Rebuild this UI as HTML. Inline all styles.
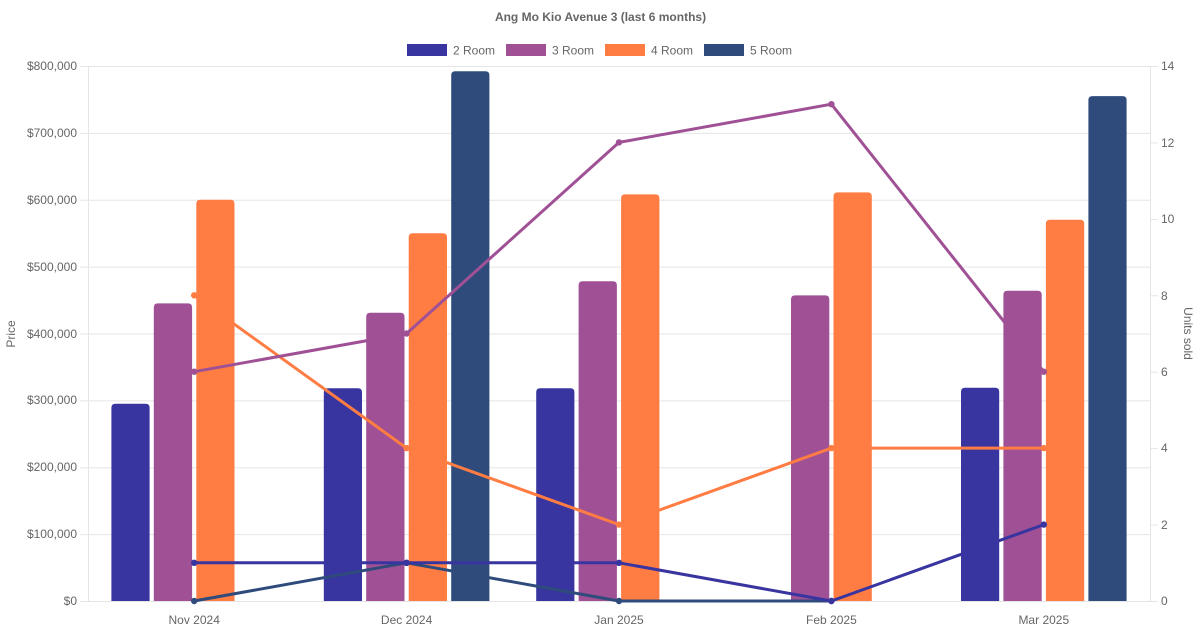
<!DOCTYPE html>
<html><head><meta charset="utf-8"><style>
html,body{margin:0;padding:0;background:#fff;}
svg{display:block;}
text{font-family:"Liberation Sans",Arial,sans-serif;font-size:12px;fill:#666;}
</style></head><body>
<svg width="1200" height="630" viewBox="0 0 1200 630" xmlns="http://www.w3.org/2000/svg">
<rect width="1200" height="630" fill="#fff"/>
<text x="600.5" y="21" text-anchor="middle" font-weight="bold">Ang Mo Kio Avenue 3 (last 6 months)</text>
<g>
<rect x="407" y="44" width="40" height="12" fill="#3935a0"/><text x="453" y="54.5">2 Room</text>
<rect x="506" y="44" width="40" height="12" fill="#a05195"/><text x="552" y="54.5">3 Room</text>
<rect x="605" y="44" width="40" height="12" fill="#ff7c43"/><text x="651" y="54.5">4 Room</text>
<rect x="704" y="44" width="40" height="12" fill="#2f4b7c"/><text x="750" y="54.5">5 Room</text>
</g>
<g stroke="#e5e5e5" stroke-width="1">
<line x1="80" y1="66.5" x2="1150" y2="66.5"/>
<line x1="80" y1="133.4" x2="1150" y2="133.4"/>
<line x1="80" y1="200.2" x2="1150" y2="200.2"/>
<line x1="80" y1="267.1" x2="1150" y2="267.1"/>
<line x1="80" y1="334" x2="1150" y2="334"/>
<line x1="80" y1="400.9" x2="1150" y2="400.9"/>
<line x1="80" y1="467.7" x2="1150" y2="467.7"/>
<line x1="80" y1="534.6" x2="1150" y2="534.6"/>
<line x1="80" y1="601.5" x2="1150" y2="601.5"/>
<line x1="88.5" y1="66" x2="88.5" y2="601"/>
<line x1="1150.5" y1="66" x2="1150.5" y2="601"/>
<line x1="1150" y1="66.5" x2="1158" y2="66.5"/>
<line x1="1150" y1="142.9" x2="1158" y2="142.9"/>
<line x1="1150" y1="219.4" x2="1158" y2="219.4"/>
<line x1="1150" y1="295.8" x2="1158" y2="295.8"/>
<line x1="1150" y1="372.2" x2="1158" y2="372.2"/>
<line x1="1150" y1="448.6" x2="1158" y2="448.6"/>
<line x1="1150" y1="525.1" x2="1158" y2="525.1"/>
<line x1="1150" y1="601.5" x2="1158" y2="601.5"/>
</g>
<g text-anchor="end">
<text x="77" y="70">$800,000</text>
<text x="77" y="137">$700,000</text>
<text x="77" y="204">$600,000</text>
<text x="77" y="271">$500,000</text>
<text x="77" y="338">$400,000</text>
<text x="77" y="404">$300,000</text>
<text x="77" y="471">$200,000</text>
<text x="77" y="538">$100,000</text>
<text x="77" y="605">$0</text>
</g>
<g>
<text x="1161" y="70">14</text>
<text x="1161" y="147">12</text>
<text x="1161" y="223">10</text>
<text x="1161" y="300">8</text>
<text x="1161" y="376">6</text>
<text x="1161" y="452">4</text>
<text x="1161" y="529">2</text>
<text x="1161" y="605">0</text>
</g>
<g text-anchor="middle">
<text x="194.2" y="624">Nov 2024</text>
<text x="406.6" y="624">Dec 2024</text>
<text x="619" y="624">Jan 2025</text>
<text x="831.4" y="624">Feb 2025</text>
<text x="1043.8" y="624">Mar 2025</text>
</g>
<text transform="translate(15,334) rotate(-90)" text-anchor="middle">Price</text>
<text transform="translate(1184,333.5) rotate(90)" text-anchor="middle">Units sold</text>
<g>
<path fill="#3935a0" d="M111.4,601V407.7Q111.4,403.7 115.4,403.7H145.6Q149.6,403.7 149.6,407.7V601Z"/>
<path fill="#a05195" d="M153.8,601V307.4Q153.8,303.4 157.8,303.4H188.1Q192.1,303.4 192.1,307.4V601Z"/>
<path fill="#ff7c43" d="M196.3,601V203.8Q196.3,199.8 200.3,199.8H230.5Q234.5,199.8 234.5,203.8V601Z"/>
<path fill="#3935a0" d="M323.8,601V392.3Q323.8,388.3 327.8,388.3H358Q362,388.3 362,392.3V601Z"/>
<path fill="#a05195" d="M366.2,601V316.8Q366.2,312.8 370.2,312.8H400.5Q404.5,312.8 404.5,316.8V601Z"/>
<path fill="#ff7c43" d="M408.7,601V237.2Q408.7,233.2 412.7,233.2H443Q447,233.2 447,237.2V601Z"/>
<path fill="#2f4b7c" d="M451.2,601V75.3Q451.2,71.3 455.2,71.3H485.4Q489.4,71.3 489.4,75.3V601Z"/>
<path fill="#3935a0" d="M536.2,601V392.3Q536.2,388.3 540.2,388.3H570.4Q574.4,388.3 574.4,392.3V601Z"/>
<path fill="#a05195" d="M578.6,601V285.3Q578.6,281.3 582.6,281.3H612.9Q616.9,281.3 616.9,285.3V601Z"/>
<path fill="#ff7c43" d="M621.1,601V198.4Q621.1,194.4 625.1,194.4H655.4Q659.4,194.4 659.4,198.4V601Z"/>
<path fill="#a05195" d="M791,601V299.4Q791,295.4 795,295.4H825.3Q829.3,295.4 829.3,299.4V601Z"/>
<path fill="#ff7c43" d="M833.5,601V196.4Q833.5,192.4 837.5,192.4H867.8Q871.8,192.4 871.8,196.4V601Z"/>
<path fill="#3935a0" d="M961,601V391.7Q961,387.7 965,387.7H995.2Q999.2,387.7 999.2,391.7V601Z"/>
<path fill="#a05195" d="M1003.4,601V294.7Q1003.4,290.7 1007.4,290.7H1037.7Q1041.7,290.7 1041.7,294.7V601Z"/>
<path fill="#ff7c43" d="M1045.9,601V223.8Q1045.9,219.8 1049.9,219.8H1080.2Q1084.2,219.8 1084.2,223.8V601Z"/>
<path fill="#2f4b7c" d="M1088.4,601V100.1Q1088.4,96.1 1092.4,96.1H1122.6Q1126.6,96.1 1126.6,100.1V601Z"/>
</g>
<g fill="none" stroke-width="3" stroke-linejoin="round">
<polyline stroke="#2f4b7c" points="194.2,601 406.6,562.8 619,601 831.4,601"/>
<polyline stroke="#ff7c43" points="194.2,295.3 406.6,448.1 619,524.6 831.4,448.1 1043.8,448.1"/>
<polyline stroke="#a05195" points="194.2,371.7 406.6,333.5 619,142.4 831.4,104.2 1043.8,371.7"/>
<polyline stroke="#3935a0" points="194.2,562.8 406.6,562.8 619,562.8 831.4,601 1043.8,524.6"/>
</g>
<g fill="#2f4b7c">
<circle cx="194.2" cy="601" r="3.2"/><circle cx="406.6" cy="562.8" r="3.2"/><circle cx="619" cy="601" r="3.2"/><circle cx="831.4" cy="601" r="3.2"/>
</g>
<g fill="#ff7c43">
<circle cx="194.2" cy="295.3" r="3.2"/><circle cx="406.6" cy="448.1" r="3.2"/><circle cx="619" cy="524.6" r="3.2"/><circle cx="831.4" cy="448.1" r="3.2"/><circle cx="1043.8" cy="448.1" r="3.2"/>
</g>
<g fill="#a05195">
<circle cx="194.2" cy="371.7" r="3.2"/><circle cx="406.6" cy="333.5" r="3.2"/><circle cx="619" cy="142.4" r="3.2"/><circle cx="831.4" cy="104.2" r="3.2"/><circle cx="1043.8" cy="371.7" r="3.2"/>
</g>
<g fill="#3935a0">
<circle cx="194.2" cy="562.8" r="3.2"/><circle cx="406.6" cy="562.8" r="3.2"/><circle cx="619" cy="562.8" r="3.2"/><circle cx="831.4" cy="601" r="3.2"/><circle cx="1043.8" cy="524.6" r="3.2"/>
</g>
</svg>
</body></html>
